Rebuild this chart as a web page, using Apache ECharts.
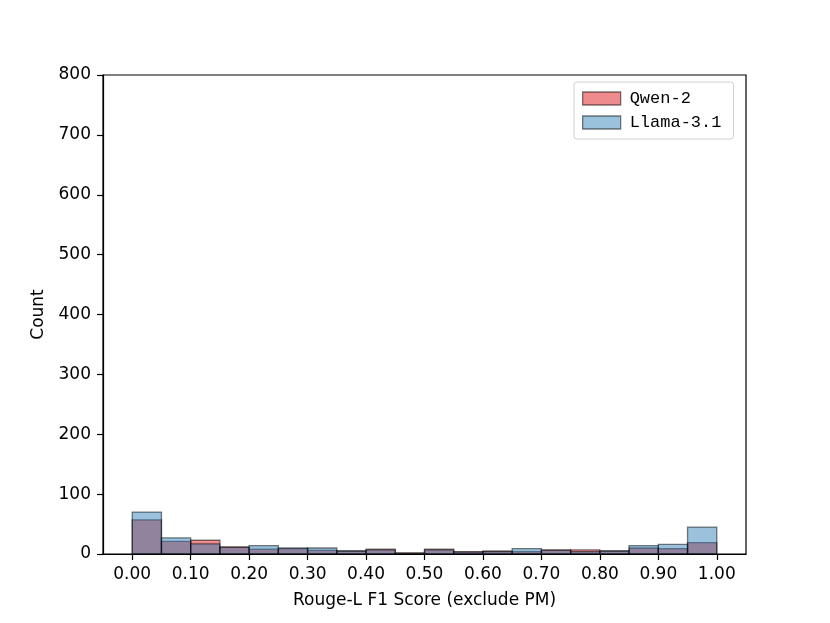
<!DOCTYPE html>
<html>
<head>
<meta charset="utf-8">
<script src="https://cdn.jsdelivr.net/npm/echarts@6/dist/echarts.min.js"></script>
<style>
  html, body { margin: 0; padding: 0; background: #fff; }
  #chart { width: 830px; height: 623px; }
</style>
</head>
<body>
<div id="chart"></div>
<script>
  // bin edges of the histogram (width 0.05)
  var binEdges = [0.00, 0.05, 0.10, 0.15, 0.20, 0.25, 0.30, 0.35, 0.40, 0.45, 0.50,
                  0.55, 0.60, 0.65, 0.70, 0.75, 0.80, 0.85, 0.90, 0.95, 1.00];
  // counts per bin
  var qwenCounts  = [57, 21, 23, 12, 8, 9, 6, 5, 8, 2, 8, 4, 5, 4, 7, 7, 5, 10, 9, 19];
  var llamaCounts = [70, 27, 17, 11, 14, 10, 10, 5, 7, 1, 7, 3, 4, 9, 6, 4, 5, 14, 16, 45];
  var xTicks = [0.0, 0.1, 0.2, 0.3, 0.4, 0.5, 0.6, 0.7, 0.8, 0.9, 1.0];

  var QWEN_FILL = 'rgba(223,21,27,0.5)';
  var LLAMA_FILL = 'rgba(31,119,180,0.45)';
  var EDGE = 'rgba(0,0,0,0.5)';

  function toBins(counts) {
    var out = [];
    for (var i = 0; i < counts.length; i++) {
      out.push([binEdges[i], binEdges[i + 1], counts[i]]);
    }
    return out;
  }

  function histRender(fill) {
    return function (params, api) {
      var p0 = api.coord([api.value(0), api.value(2)]);
      var p1 = api.coord([api.value(1), 0]);
      return {
        type: 'rect',
        shape: { x: p0[0], y: p0[1], width: p1[0] - p0[0], height: p1[1] - p0[1] },
        style: { fill: fill, stroke: EDGE, lineWidth: 1.3 }
      };
    };
  }

  var font = 'DejaVu Sans';
  var chart = echarts.init(document.getElementById('chart'), null, { renderer: 'canvas' });

  chart.setOption({
    animation: false,
    backgroundColor: '#fff',
    textStyle: { fontFamily: font },
    grid: {
      left: 103, right: 84, top: 75, bottom: 69,
      show: true, borderColor: '#000', borderWidth: 1.2, backgroundColor: 'transparent'
    },
    legend: {
      left: 574, top: 82,
      orient: 'vertical',
      itemWidth: 38, itemHeight: 13, itemGap: 7,
      padding: [8, 12, 8, 8],
      borderColor: '#d0d0d0', borderWidth: 1, borderRadius: 3,
      textStyle: { fontFamily: '"Courier New", "Liberation Mono", monospace', fontSize: 17, color: '#000', padding: [0, 0, 0, 4] },
      data: [
        { name: 'Qwen-2', icon: 'rect', itemStyle: { color: QWEN_FILL, borderColor: EDGE, borderWidth: 1.3 } },
        { name: 'Llama-3.1', icon: 'rect', itemStyle: { color: LLAMA_FILL, borderColor: EDGE, borderWidth: 1.3 } }
      ]
    },
    xAxis: {
      type: 'value',
      min: -0.05, max: 1.05,
      name: 'Rouge-L F1 Score (exclude PM)',
      nameLocation: 'middle', nameGap: 38,
      nameTextStyle: { fontSize: 17, color: '#000', fontFamily: font },
      axisLine: { show: true, onZero: false, lineStyle: { color: '#000', width: 1.2 } },
      axisTick: { show: true, length: 6, lineStyle: { color: '#000', width: 1.2 }, customValues: xTicks },
      axisLabel: {
        fontSize: 17, color: '#000', margin: 12, fontFamily: font,
        customValues: xTicks,
        formatter: function (v) { return v.toFixed(2); }
      },
      splitLine: { show: false }
    },
    yAxis: {
      type: 'value',
      min: 0, max: 800, interval: 100,
      name: 'Count',
      nameLocation: 'middle', nameGap: 56,
      nameTextStyle: { fontSize: 17, color: '#000', fontFamily: font },
      axisLine: { show: true, onZero: false, lineStyle: { color: '#000', width: 1.2 } },
      axisTick: { show: true, length: 6, lineStyle: { color: '#000', width: 1.2 } },
      axisLabel: { fontSize: 17, color: '#000', margin: 12, fontFamily: font },
      splitLine: { show: false }
    },
    series: [
      {
        name: 'Qwen-2', type: 'custom',
        itemStyle: { color: QWEN_FILL },
        renderItem: histRender(QWEN_FILL),
        encode: { x: [0, 1], y: 2 },
        data: toBins(qwenCounts)
      },
      {
        name: 'Llama-3.1', type: 'custom',
        itemStyle: { color: LLAMA_FILL },
        renderItem: histRender(LLAMA_FILL),
        encode: { x: [0, 1], y: 2 },
        data: toBins(llamaCounts)
      }
    ]
  });
</script>
</body>
</html>
